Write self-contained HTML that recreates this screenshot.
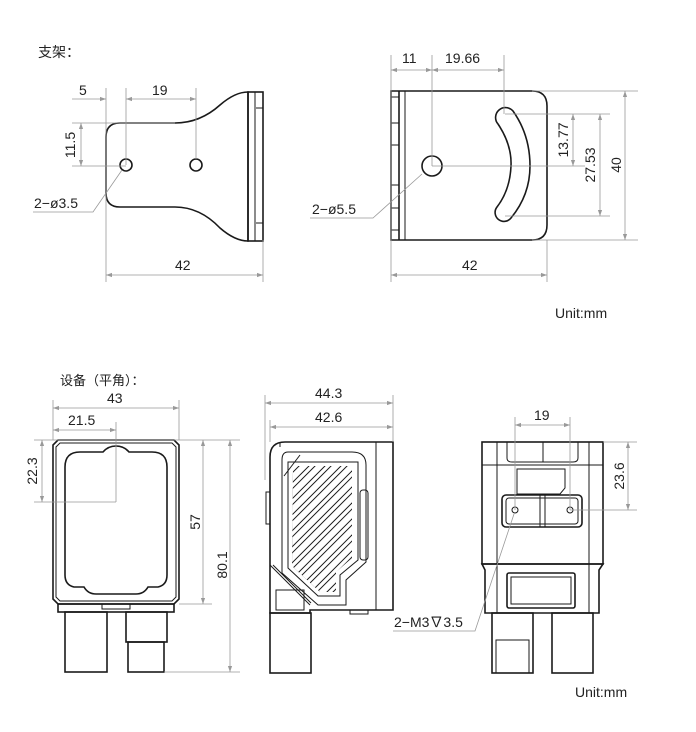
<!DOCTYPE html>
<html><head><meta charset="utf-8"><style>
html,body{margin:0;padding:0;background:#fff}
svg{display:block}
text{font-family:"Liberation Sans","Noto Sans CJK SC",sans-serif;fill:#222}
.o{fill:none;stroke:#1a1a1a;stroke-width:1.6}
.t{fill:none;stroke:#1a1a1a;stroke-width:1}
.d{fill:none;stroke:#999;stroke-width:0.8}
</style></head><body>
<svg width="696" height="732" viewBox="0 0 696 732" xmlns="http://www.w3.org/2000/svg">
<defs>
<marker id="m" viewBox="0 0 10 10" refX="10" refY="5" markerWidth="9" markerHeight="6" orient="auto-start-reverse" markerUnits="userSpaceOnUse"><path d="M0,1.5 L10,5 L0,8.5z" fill="#999"/></marker>
<clipPath id="cp"><path d="M293,466 L352,466 L352,558 L336,572 L336,592 L320,592 L292,566z"/></clipPath>
</defs>
<text x="38" y="57" font-size="14">支架：</text>
<!-- bracket 1 -->
<path class="o" d="M120,123 L175,123 Q200,123 220,105 Q235,92 248,92 L248,241 Q235,241 220,228 Q200,207 175,207 L120,207 Q106,207 106,193 L106,137 Q106,123 120,123z"/>
<rect class="o" x="248" y="92" width="15" height="149"/>
<line class="t" x1="255" y1="92" x2="255" y2="241"/>
<line class="t" x1="256" y1="108" x2="263" y2="108"/><line class="t" x1="256" y1="223" x2="263" y2="223"/>
<circle class="o" cx="126" cy="165" r="6"/><circle class="o" cx="196" cy="165" r="6"/>
<line class="d" x1="106" y1="88" x2="106" y2="282"/><line class="d" x1="263" y1="240" x2="263" y2="282"/>
<line class="d" x1="126" y1="88" x2="126" y2="165"/><line class="d" x1="196" y1="88" x2="196" y2="159"/>
<line class="d" x1="72" y1="99" x2="106" y2="99" marker-end="url(#m)"/>
<line class="d" x1="126" y1="99" x2="196" y2="99" marker-start="url(#m)" marker-end="url(#m)"/>
<text x="79" y="95" font-size="14">5</text><text x="152" y="95" font-size="14">19</text>
<line class="d" x1="72" y1="123" x2="175" y2="123"/><line class="d" x1="72" y1="166" x2="126" y2="166"/>
<line class="d" x1="81" y1="123" x2="81" y2="166" marker-start="url(#m)" marker-end="url(#m)"/>
<text transform="translate(75,145) rotate(-90)" font-size="14" text-anchor="middle">11.5</text>
<text x="34" y="208" font-size="14">2−ø3.5</text>
<polyline class="d" points="33,212 93,212 122,170"/>
<line class="d" x1="106" y1="275" x2="263" y2="275" marker-start="url(#m)" marker-end="url(#m)"/>
<text x="175" y="270" font-size="14">42</text>
<!-- bracket 2 -->
<path class="o" d="M391,91 L532,91 Q547,91 547,106 L547,225 Q547,240 532,240 L391,240z"/>
<line class="o" x1="399" y1="91" x2="399" y2="240"/><line class="t" x1="405" y1="91" x2="405" y2="240"/>
<g class="t"><line x1="391" y1="97" x2="399" y2="97"/><line x1="391" y1="123" x2="399" y2="123"/><line x1="391" y1="145" x2="399" y2="145"/><line x1="391" y1="185" x2="399" y2="185"/><line x1="391" y1="208" x2="399" y2="208"/><line x1="391" y1="230" x2="399" y2="230"/></g>
<circle class="o" cx="432" cy="166" r="10"/>
<path class="o" d="M498,124 Q512,145 511,166 Q510,190 497,207 A8,8 0 0 0 511,218 Q530,195 530,166 Q530,135 513,111 A8,8 0 0 0 498,124z"/>
<line class="d" x1="391" y1="55" x2="391" y2="282"/><line class="d" x1="547" y1="240" x2="547" y2="282"/>
<line class="d" x1="432" y1="55" x2="432" y2="166"/><line class="d" x1="504" y1="55" x2="504" y2="114"/>
<line class="d" x1="391" y1="70" x2="432" y2="70" marker-start="url(#m)" marker-end="url(#m)"/>
<line class="d" x1="432" y1="70" x2="504" y2="70" marker-start="url(#m)" marker-end="url(#m)"/>
<text x="402" y="63" font-size="14">11</text><text x="445" y="63" font-size="14">19.66</text>
<line class="d" x1="532" y1="91" x2="638" y2="91"/><line class="d" x1="532" y1="240" x2="638" y2="240"/>
<line class="d" x1="505" y1="114" x2="610" y2="114"/><line class="d" x1="505" y1="216" x2="610" y2="216"/>
<line class="d" x1="432" y1="166" x2="585" y2="166"/>
<line class="d" x1="573" y1="114" x2="573" y2="166" marker-start="url(#m)" marker-end="url(#m)"/>
<line class="d" x1="600" y1="114" x2="600" y2="216" marker-start="url(#m)" marker-end="url(#m)"/>
<line class="d" x1="625" y1="91" x2="625" y2="240" marker-start="url(#m)" marker-end="url(#m)"/>
<text transform="translate(568,140) rotate(-90)" font-size="14" text-anchor="middle">13.77</text>
<text transform="translate(595,165) rotate(-90)" font-size="14" text-anchor="middle">27.53</text>
<text transform="translate(621,165) rotate(-90)" font-size="14" text-anchor="middle">40</text>
<text x="312" y="214" font-size="14">2−ø5.5</text>
<polyline class="d" points="310,218 373,218 422,174"/>
<line class="d" x1="391" y1="275" x2="547" y2="275" marker-start="url(#m)" marker-end="url(#m)"/>
<text x="462" y="270" font-size="14">42</text>
<text x="555" y="318" font-size="14">Unit:mm</text>
<!-- device -->
<text x="60" y="385" font-size="13">设备（平角）：</text>
<!-- front -->
<path class="o" d="M58,440 L174,440 L179,445 L179,599 L174,604 L58,604 L53,599 L53,445z"/>
<path class="t" d="M60,443 L172,443 L176,447 L176,597 L172,601 L60,601 L56,597 L56,447z"/>
<path class="o" d="M80,452 L103,452 Q108,446 116,446 Q124,446 129,452 L152,452 Q167,452 167,467 L167,575 Q167,585 158,587 L148,587 Q144,594 136,594 L96,594 Q88,594 84,587 L74,587 Q65,585 65,575 L65,467 Q65,452 80,452z"/>
<rect class="o" x="58" y="604" width="116" height="8"/>
<rect class="t" x="102" y="604" width="28" height="5"/>
<rect class="o" x="65" y="612" width="42" height="60"/>
<rect class="o" x="126" y="612" width="41" height="30"/><rect class="o" x="128" y="642" width="36" height="30"/>
<line class="d" x1="53" y1="400" x2="53" y2="440"/><line class="d" x1="179" y1="400" x2="179" y2="440"/>
<line class="d" x1="53" y1="408" x2="179" y2="408" marker-start="url(#m)" marker-end="url(#m)"/>
<text x="107" y="403" font-size="14">43</text>
<line class="d" x1="116" y1="422" x2="116" y2="502"/>
<line class="d" x1="53" y1="430" x2="116" y2="430" marker-start="url(#m)" marker-end="url(#m)"/>
<text x="68" y="425" font-size="14">21.5</text>
<line class="d" x1="34" y1="440" x2="240" y2="440"/><line class="d" x1="34" y1="502" x2="116" y2="502"/>
<line class="d" x1="42" y1="440" x2="42" y2="502" marker-start="url(#m)" marker-end="url(#m)"/>
<text transform="translate(37,471) rotate(-90)" font-size="14" text-anchor="middle">22.3</text>
<line class="d" x1="179" y1="604" x2="212" y2="604"/><line class="d" x1="164" y1="672" x2="240" y2="672"/>
<line class="d" x1="203" y1="440" x2="203" y2="604" marker-start="url(#m)" marker-end="url(#m)"/>
<line class="d" x1="230" y1="440" x2="230" y2="672" marker-start="url(#m)" marker-end="url(#m)"/>
<text transform="translate(200,522) rotate(-90)" font-size="14" text-anchor="middle">57</text>
<text transform="translate(227,565) rotate(-90)" font-size="14" text-anchor="middle">80.1</text>
<!-- side -->
<path class="o" d="M285,442 L393,442 L393,610 L310,610 L310,613 L270,613 L270,457 Q270,442 285,442z"/>
<line class="t" x1="376" y1="442" x2="376" y2="610"/><line class="t" x1="280" y1="442" x2="280" y2="447"/>
<path class="t" d="M288,452 L352,452 Q366,452 366,465 L366,562 L346,580 L346,605 L318,605 L282,573 L282,460 Q282,452 288,452z"/>
<path class="t" d="M284,476 L300,455"/>
<rect class="t" x="266" y="492" width="4" height="32"/>
<rect class="t" x="360" y="490" width="8" height="70" rx="3"/>
<path class="t" d="M288,462 L358,462 L358,560 L340,575 L340,596 L318,596 L288,568z" />
<g clip-path="url(#cp)" stroke-linecap="round" fill="none">
<g stroke="#1a1a1a" stroke-width="8">
<line x1="250" y1="520" x2="380" y2="390"/><line x1="250" y1="536" x2="380" y2="406"/><line x1="250" y1="552" x2="380" y2="422"/><line x1="250" y1="568" x2="380" y2="438"/><line x1="250" y1="584" x2="380" y2="454"/><line x1="250" y1="600" x2="380" y2="470"/><line x1="250" y1="616" x2="380" y2="486"/><line x1="250" y1="632" x2="380" y2="502"/><line x1="250" y1="648" x2="380" y2="518"/><line x1="250" y1="664" x2="380" y2="534"/><line x1="250" y1="680" x2="380" y2="550"/>
</g>
<g stroke="#fff" stroke-width="6">
<line x1="250" y1="520" x2="380" y2="390"/><line x1="250" y1="536" x2="380" y2="406"/><line x1="250" y1="552" x2="380" y2="422"/><line x1="250" y1="568" x2="380" y2="438"/><line x1="250" y1="584" x2="380" y2="454"/><line x1="250" y1="600" x2="380" y2="470"/><line x1="250" y1="616" x2="380" y2="486"/><line x1="250" y1="632" x2="380" y2="502"/><line x1="250" y1="648" x2="380" y2="518"/><line x1="250" y1="664" x2="380" y2="534"/><line x1="250" y1="680" x2="380" y2="550"/>
</g></g>
<line class="t" x1="270" y1="565" x2="310" y2="605"/><line class="t" x1="273" y1="565" x2="311" y2="603"/>
<rect class="t" x="276" y="590" width="28" height="20"/>
<rect class="t" x="350" y="610" width="18" height="4"/>
<rect class="o" x="270" y="613" width="41" height="60"/>
<line class="d" x1="265" y1="395" x2="265" y2="480"/><line class="d" x1="270" y1="420" x2="270" y2="442"/><line class="d" x1="393" y1="395" x2="393" y2="442"/>
<line class="d" x1="265" y1="403" x2="393" y2="403" marker-start="url(#m)" marker-end="url(#m)"/>
<line class="d" x1="270" y1="427" x2="393" y2="427" marker-start="url(#m)" marker-end="url(#m)"/>
<text x="315" y="398" font-size="14">44.3</text><text x="315" y="422" font-size="14">42.6</text>
<!-- back -->
<rect class="o" x="482" y="442" width="121" height="122"/>
<line class="t" x1="497" y1="442" x2="497" y2="564"/><line class="t" x1="589" y1="442" x2="589" y2="564"/>
<line class="t" x1="482" y1="465" x2="603" y2="465"/>
<path class="t" d="M507,442 L507,458 Q507,462 512,462 L573,462 Q578,462 578,458 L578,442"/>
<line class="t" x1="543" y1="442" x2="543" y2="462"/>
<path class="t" d="M517,469 L565,469 L565,488 L560,494 L517,494z"/>
<rect class="o" x="502" y="495" width="80" height="32" rx="4"/>
<rect class="t" x="506" y="498" width="72" height="26" rx="3"/>
<rect class="t" x="540" y="495" width="5" height="32"/>
<circle class="t" cx="515" cy="510" r="3"/><circle class="t" cx="570" cy="510" r="3"/>
<path class="o" d="M482,564 L603,564 L599,570 L599,613 L485,613 L485,570z"/>
<line class="t" x1="497" y1="564" x2="497" y2="613"/><line class="t" x1="589" y1="564" x2="589" y2="613"/>
<rect class="o" x="507" y="573" width="68" height="35" rx="2"/><rect class="t" x="511" y="577" width="60" height="27"/>
<rect class="o" x="492" y="613" width="41" height="60"/><rect class="t" x="496" y="640" width="33" height="33"/>
<rect class="o" x="552" y="613" width="41" height="60"/>
<line class="d" x1="515" y1="417" x2="515" y2="510"/><line class="d" x1="570" y1="417" x2="570" y2="510"/>
<line class="d" x1="515" y1="425" x2="570" y2="425" marker-start="url(#m)" marker-end="url(#m)"/>
<text x="534" y="420" font-size="14">19</text>
<line class="d" x1="603" y1="442" x2="637" y2="442"/><line class="d" x1="570" y1="510" x2="637" y2="510"/>
<line class="d" x1="628" y1="442" x2="628" y2="510" marker-start="url(#m)" marker-end="url(#m)"/>
<text transform="translate(624,476) rotate(-90)" font-size="14" text-anchor="middle">23.6</text>
<text x="394" y="627" font-size="14">2−M3∇3.5</text>
<polyline class="d" points="393,631 475,631 514,514"/>
<text x="575" y="697" font-size="14">Unit:mm</text>
</svg>
</body></html>
